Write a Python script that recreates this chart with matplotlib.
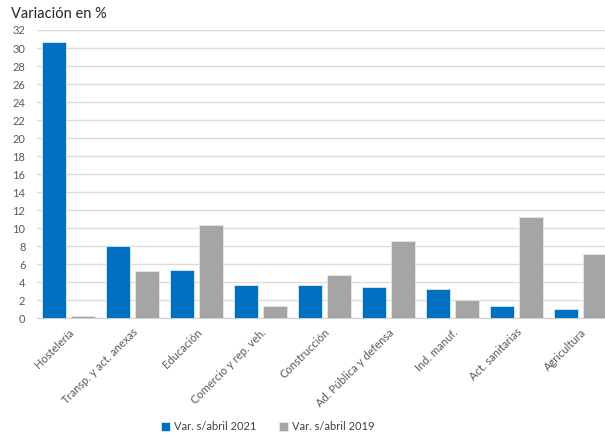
import matplotlib.pyplot as plt
import numpy as np

# Data
categorias = ['Hostelería', 'Transp. y act. anexas', 'Educación', 'Comercio y rep. veh.',
              'Construcción', 'Ad. Pública y defensa', 'Ind. manuf.', 'Act. sanitarias',
              'Agricultura']
var_2021 = [30.7, 8.0, 5.35, 3.65, 3.65, 3.45, 3.2, 1.4, 1.0]
var_2019 = [0.25, 5.2, 10.4, 1.35, 4.8, 8.55, 2.05, 11.2, 7.15]
yticks = list(range(0, 33, 2))

plt.rcParams['font.family'] = ['Lato', 'DejaVu Sans']

W, H = 605, 437
fig = plt.figure(figsize=(W / 100, H / 100), dpi=100)
# axes runs a bit past the right edge, like the cropped original
ax = fig.add_axes([36.5 / W, (H - 318.3) / H, 576 / W, 288.3 / H])

x = np.arange(len(categorias))
bw = 0.375
off = 0.227
ax.bar(x - off, var_2021, bw, color='#0070C0', edgecolor='#dfe9f5', linewidth=0.6,
       label='Var. s/abril 2021', zorder=3)
ax.bar(x + off, var_2019, bw, color='#A5A5A5', edgecolor='#e6e6e6', linewidth=0.6,
       label='Var. s/abril 2019', zorder=3)

ax.set_xlim(-0.5, len(categorias) - 0.5)
ax.set_ylim(0, 32)
ax.set_yticks(yticks)
ax.yaxis.grid(True, color='#dcdcdc', linewidth=1.0, zorder=0)
ax.set_axisbelow(True)
for s in ['top', 'right', 'left']:
    ax.spines[s].set_visible(False)
ax.spines['bottom'].set_color('#d0d0d0')
ax.tick_params(axis='both', length=0, labelsize=8, colors='#595959')
ax.tick_params(axis='y', pad=8)
ax.set_xticks(x)
ax.set_xticklabels(categorias, rotation=45, ha='right', rotation_mode='anchor')
ax.tick_params(axis='x', pad=6)

fig.text(11 / W, 1 - 14 / H, 'Variación en %', fontsize=10.5, color='#262626', va='center')

fig.legend(loc='center', bbox_to_anchor=(268 / W, 1 - 427 / H), ncol=2, frameon=False,
           fontsize=8, handlelength=0.8, handleheight=0.8, columnspacing=2.0,
           handletextpad=0.4, labelcolor='#404040')

fig.savefig('out.png', dpi=100)
